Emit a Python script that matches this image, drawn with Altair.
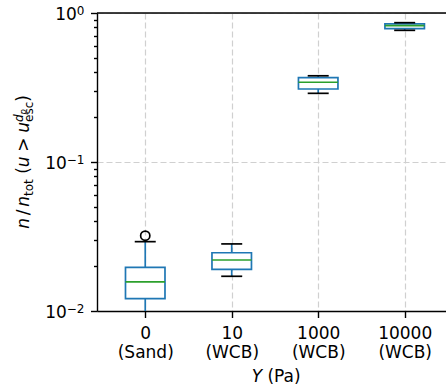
import altair as alt
import pandas as pd

# ---------------- data ----------------
categories = ["0", "10", "1000", "10000"]
materials = ["(Sand)", "(WCB)", "(WCB)", "(WCB)"]
whisker_low = [0.0085, 0.0171, 0.289, 0.765]
q1 = [0.0121, 0.0190, 0.309, 0.785]
median = [0.0157, 0.0220, 0.343, 0.822]
q3 = [0.0196, 0.0246, 0.368, 0.844]
whisker_high = [0.0292, 0.0282, 0.379, 0.861]
outlier_category = ["0"]
outlier_value = [0.032]
y_major = [0.01, 0.1, 1.0]
y_major_exp = ["\u22122", "\u22121", "0"]
y_minor = [k * 10.0 ** e for e in (-2, -1) for k in range(2, 10)]

df = pd.DataFrame({
    "pos": list(range(1, len(categories) + 1)),
    "wlo": whisker_low, "q1": q1, "med": median, "q3": q3, "whi": whisker_high,
})
out_df = pd.DataFrame({
    "pos": [categories.index(c) + 1 for c in outlier_category],
    "val": outlier_value,
})
one = pd.DataFrame({"k": [0]})

# ---------------- layout ----------------
W, H = 349, 298
PAD = {"left": 97, "top": 13, "right": 0, "bottom": 77}
FONT = "DejaVu Sans"
FS = 17
SFS = 12
BLUE, GREEN = "#1f77b4", "#2ca02c"
GRID = "#d0d0d0"

major_test = "abs(log(datum.value)/LN10 - round(log(datum.value)/LN10)) < 0.001"
x_label_expr = "[" + ",".join(f"['{a}','{b}']" for a, b in zip(categories, materials)) + "][datum.value - 1]"

x_axis = alt.Axis(
    values=list(range(1, len(categories) + 1)), labelExpr=x_label_expr,
    grid=True, gridColor=GRID, gridDash=[6, 3], gridWidth=1.2,
    tickSize=6.5, tickWidth=1.4, tickColor="black",
    domainColor="black", domainWidth=1.4,
    labelFont=FONT, labelFontSize=FS, labelColor="black", labelPadding=7.5,
    labelLineHeight=19, labelBaseline="top", labelFlush=False, labelOverlap=False,
    title=None,
)
y_axis = alt.Axis(
    values=sorted(y_major + y_minor), labels=False,
    grid=True, gridColor=GRID, gridDash=[6, 3], gridWidth=1.2,
    gridOpacity={"condition": {"test": major_test, "value": 1}, "value": 0},
    tickSize={"condition": {"test": major_test, "value": 6.5}, "value": 3.5},
    tickWidth=1.4, tickColor="black",
    domainColor="black", domainWidth=1.4,
    title=None,
)
x_scale = alt.Scale(domain=[0.5, 4.42], nice=False, zero=False)
y_scale = alt.Scale(type="log", domain=[0.01, 1.0], nice=False)

X = alt.X("pos:Q", scale=x_scale, axis=x_axis)


def Y(f):
    return alt.Y(f"{f}:Q", scale=y_scale, axis=y_axis)


base = alt.Chart(df)
whisk_up = base.mark_rule(color=BLUE, strokeWidth=1.7, clip=True).encode(x=X, y=Y("q3"), y2="whi:Q")
whisk_dn = base.mark_rule(color=BLUE, strokeWidth=1.7, clip=True).encode(x=X, y=Y("wlo"), y2="q1:Q")
box = base.mark_bar(size=39.5, fill="white", stroke=BLUE, strokeWidth=1.7, opacity=1).encode(
    x=X, y=Y("q1"), y2="q3:Q")
med = base.mark_tick(orient="horizontal", size=39.5, thickness=1.7, color=GREEN, opacity=1).encode(
    x=X, y=Y("med"))
cap_up = base.mark_tick(orient="horizontal", size=21, thickness=1.7, color="black", opacity=1,
                        clip=True).encode(x=X, y=Y("whi"))
cap_dn = base.mark_tick(orient="horizontal", size=21, thickness=1.7, color="black", opacity=1,
                        clip=True).encode(x=X, y=Y("wlo"))
fliers = alt.Chart(out_df).mark_point(shape="circle", filled=False, size=85, stroke="black",
                                      strokeWidth=1.7, opacity=1).encode(x=X, y=Y("val"))

top_spine = alt.Chart(one).mark_rule(color="black", strokeWidth=1.4).encode(
    x=alt.value(0), x2=alt.value(W), y=alt.value(0))

# ---------------- text helpers ----------------
ADV = {'n': 1298, '/': 690, 't': 803, 'o': 1253, '(': 799, 'u': 1298, '>': 1716, 'e': 1260,
       's': 1067, 'c': 1126, 'd': 1300, 'p': 1300, ')': 799, 'Y': 1251, 'P': 1235, 'a': 1255,
       ' ': 651, '0': 1303, '1': 1303, '2': 1303, '\u2212': 1716}


def adv(text, size):
    return sum(ADV[c] for c in text) / 2048 * size


def seg(text, italic, size, x, y, angle=0):
    kw = dict(text=text, font=FONT, fontSize=size, align="left", baseline="alphabetic", color="black")
    if italic:
        kw["fontStyle"] = "italic"
    if angle:
        kw["angle"] = angle
    return alt.Chart(one).mark_text(**kw).encode(x=alt.value(x), y=alt.value(y))


# y tick labels "10^e" placed through the y scale
LABEL_RIGHT = -(6.5 + 6.0)
ylabels = []
ydf = pd.DataFrame({"v": y_major, "e": y_major_exp})
for v, e in zip(y_major, y_major_exp):
    sub = alt.Chart(ydf).transform_filter(f"datum.e == '{e}'")
    wtot = adv("10", FS) + adv(e, SFS)
    ylabels.append(sub.mark_text(text="10", font=FONT, fontSize=FS, align="left", baseline="alphabetic",
                                 color="black", dx=LABEL_RIGHT - wtot, dy=7)
                   .encode(x=alt.value(0), y=Y("v")))
    ylabels.append(sub.mark_text(font=FONT, fontSize=SFS, align="left", baseline="alphabetic",
                                 color="black", dx=LABEL_RIGHT - adv(e, SFS), dy=1.5)
                   .encode(x=alt.value(0), y=Y("v"), text="e:N"))

# y title pieces
SUB, SUPD, SUBSUB = 4.0, -6.0, -3.0
s = 0.0
layout = []
layout.append(("n", True, FS, 0, s)); s += adv("n", FS) + 2.8
layout.append(("/", False, FS, 0, s)); s += adv("/", FS) + 2.8
layout.append(("n", True, FS, 0, s)); s += adv("n", FS)
layout.append(("tot", False, SFS, SUB, s)); s += adv("tot", SFS) + adv(" ", FS)
layout.append(("(", False, FS, 0, s)); s += adv("(", FS)
layout.append(("u", True, FS, 0, s)); s += adv("u", FS) + 4.7
layout.append((">", False, FS, 0, s)); s += adv(">", FS) + 4.7
layout.append(("u", True, FS, 0, s)); s += adv("u", FS)
layout.append(("esc", False, SFS, SUB, s))
layout.append(("d", True, SFS, SUPD, s))
layout.append(("p", True, 8.5, SUBSUB, s + adv("d", SFS)))
s += max(adv("esc", SFS), adv("d", SFS) + adv("p", 8.5))
layout.append((")", False, FS, 0, s)); s += adv(")", FS)
total = s
cy = (162 - PAD["top"])
base_x = 28.5 - PAD["left"]
y0 = cy + total / 2
ytitle = [seg(t, it, sz, base_x + sh, y0 - pos, angle=270) for (t, it, sz, sh, pos) in layout]

# x title: "Y (Pa)"
xt_w = adv("Y", FS) + adv(" (Pa)", FS)
xt_x0 = 276.5 - PAD["left"] - xt_w / 2
xt_y = 382 - PAD["top"]
xtitle = [seg("Y", True, FS, xt_x0, xt_y), seg("(Pa)", False, FS, xt_x0 + adv("Y ", FS), xt_y)]

chart = alt.layer(
    whisk_up, whisk_dn, box, med, cap_up, cap_dn, fliers, top_spine, *ylabels, *ytitle, *xtitle
).properties(
    width=W, height=H,
    autosize=alt.AutoSizeParams(type="none"),
    padding=PAD,
).configure_view(stroke=None).configure(font=FONT)

chart.save("out.html", embed_options={"renderer": "svg", "actions": False})
